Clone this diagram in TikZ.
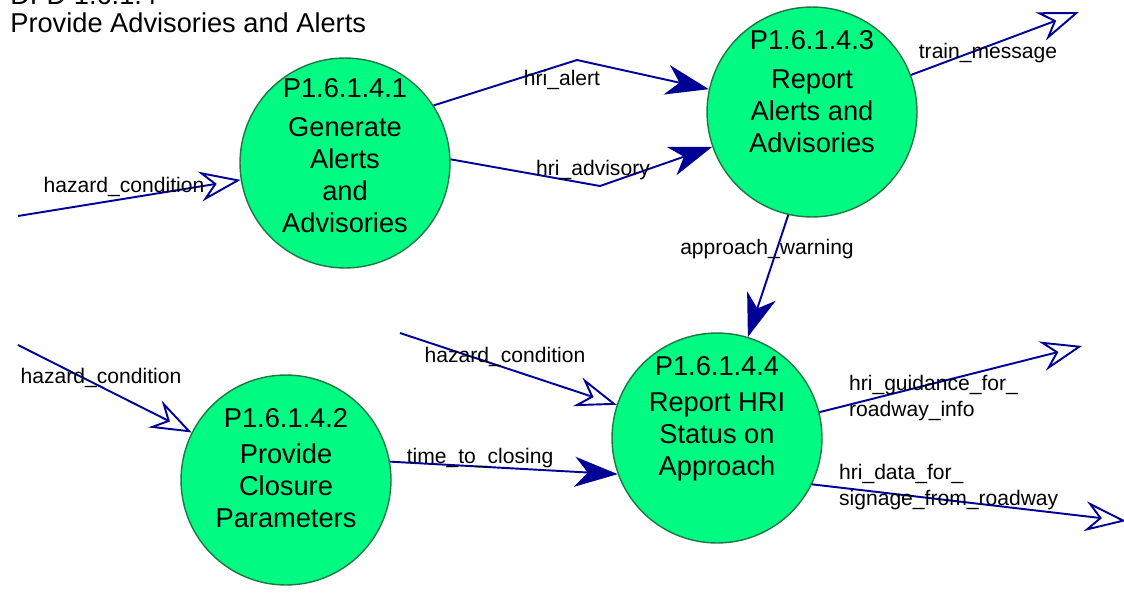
\documentclass[tikz,border=0pt]{standalone}
\usepackage{fontspec}
\setmainfont{Liberation Sans}
\usepackage{tikz}
\usetikzlibrary{arrows.meta}
\definecolor{flowblue}{RGB}{0,0,150}
\definecolor{procfill}{RGB}{0,250,130}
\definecolor{procline}{RGB}{30,120,70}
\begin{document}
\begin{tikzpicture}[x=0.02cm,y=-0.02cm,
  proc/.style={circle,draw=procline,fill=procfill,line width=0.8pt,minimum size=4.2cm,inner sep=0pt},
  ptext/.style={align=center,inner sep=0pt,font=\fontsize{15.5}{18.2}\selectfont},
  ttl/.style={inner sep=0pt,font=\fontsize{15.5}{18.2}\selectfont},
  lbl/.style={inner sep=1pt,font=\fontsize{12}{15}\selectfont},
  flow/.style={draw=flowblue,line width=1.1pt},
  dflow/.style={flow,-{Stealth[length=0.86cm,width=0.6cm,inset=0.26cm]}},
  xflow/.style={flow,-{Stealth[open,length=0.82cm,width=0.6cm,inset=0.28cm]}}]
\useasboundingbox (0,0) rectangle (1124,592);

\node[ttl,anchor=base west] (dfd) at (10,4) {DFD 1.6.1.4};
\node[ttl,anchor=base west] (sub) at (10,32) {Provide Advisories and Alerts};

\node[proc] (p41) at (345,163) {};
\node[proc] (p43) at (812,112) {};
\node[proc] (p42) at (286,480) {};
\node[proc] (p44) at (717,438) {};

\node[ptext] (p41t) at (345,156) {P1.6.1.4.1\\[4pt] Generate\\ Alerts\\ and\\ Advisories};
\node[ptext] (p43t) at (812,92) {P1.6.1.4.3\\[4pt] Report\\ Alerts and\\ Advisories};
\node[ptext] (p42t) at (286,468) {P1.6.1.4.2\\[2pt] Provide\\ Closure\\ Parameters};
\node[ptext] (p44t) at (717,419) {P1.6.1.4.4\\[2.5pt] Report HRI\\ Status on\\ Approach};

\coordinate (hz1) at (18,216);
\coordinate (hz2) at (18,345);
\coordinate (hz3) at (400,333);
\coordinate (tm) at (1079,12);
\coordinate (gd) at (1082,346);
\coordinate (sg) at (1126,521);
\coordinate (ab) at (577,60);
\coordinate (vb) at (600,186);

\draw[xflow] (hz1) -- (p41);
\draw[dflow] (p41.33) -- (ab) -- (p43);
\draw[dflow] (p41.2) -- (vb) -- (p43);
\draw[xflow] (p43) -- (tm);
\draw[dflow] (p43.257) -- (p44.73);
\draw[xflow] (hz2) -- (p42);
\draw[xflow] (hz3) -- (p44);
\draw[dflow] (p42.10) -- (p44.200);
\draw[xflow] (p44) -- (gd);
\draw[xflow] (p44.334) -- (sg);

\node[lbl] (l1) at (124,187) {hazard\_condition};
\node[lbl] (l2) at (562,80) {hri\_alert};
\node[lbl] (l3) at (593,170) {hri\_advisory};
\node[lbl] (l4) at (988,53) {train\_message};
\node[lbl] (l5) at (767,249) {approach\_warning};
\node[lbl] (l6) at (101,378) {hazard\_condition};
\node[lbl] (l7) at (505,357) {hazard\_condition};
\node[lbl] (l8) at (480,458) {time\_to\_closing};
\node[lbl,align=left,anchor=west] (l9) at (847,398) {hri\_guidance\_for\_\\ roadway\_info};
\node[lbl,align=left,anchor=west] (l10) at (837,487) {hri\_data\_for\_\\ signage\_from\_roadway};
\end{tikzpicture}
\end{document}
